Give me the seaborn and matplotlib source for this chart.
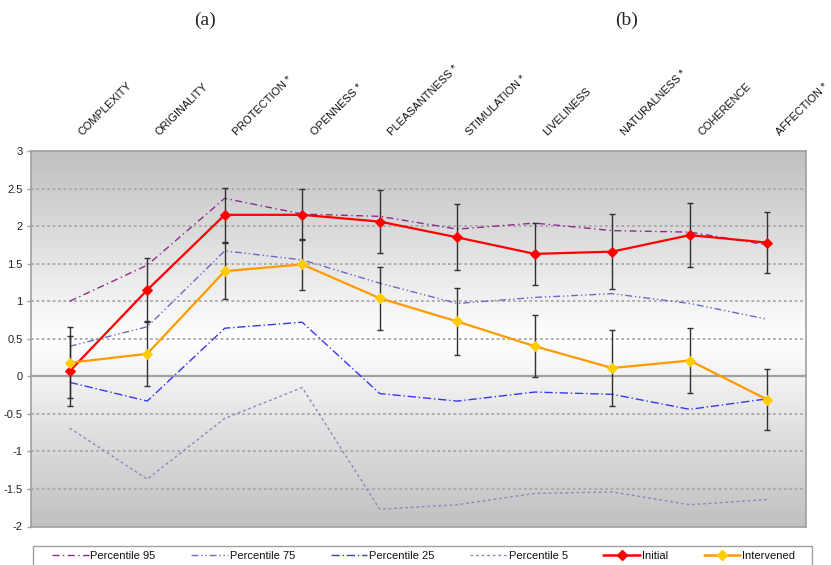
import numpy as np
import pandas as pd
import matplotlib
matplotlib.use("Agg")
import matplotlib.pyplot as plt
import seaborn as sns
from matplotlib.lines import Line2D
from matplotlib.patches import Rectangle
from matplotlib.colors import LinearSegmentedColormap

# ---- data -----------------------------------------------------------------
categories = ["COMPLEXITY", "ORIGINALITY", "PROTECTION *", "OPENNESS *",
              "PLEASANTNESS *", "STIMULATION *", "LIVELINESS", "NATURALNESS *",
              "COHERENCE", "AFFECTION *"]

p95 = [1.00, 1.48, 2.37, 2.16, 2.13, 1.96, 2.04, 1.94, 1.92, 1.75]
p75 = [0.40, 0.66, 1.67, 1.55, 1.24, 0.97, 1.05, 1.10, 0.97, 0.76]
p25 = [-0.08, -0.33, 0.64, 0.72, -0.23, -0.33, -0.21, -0.24, -0.44, -0.30]
p5 = [-0.69, -1.37, -0.56, -0.15, -1.77, -1.71, -1.56, -1.54, -1.71, -1.64]

initial = [0.07, 1.15, 2.15, 2.15, 2.06, 1.85, 1.63, 1.66, 1.88, 1.78]
initial_err = [0.46, 0.43, 0.36, 0.34, 0.42, 0.44, 0.41, 0.50, 0.43, 0.41]
intervened = [0.18, 0.30, 1.40, 1.49, 1.04, 0.73, 0.40, 0.11, 0.21, -0.31]
intervened_err = [0.47, 0.43, 0.37, 0.34, 0.42, 0.44, 0.41, 0.50, 0.43, 0.41]

y_ticks = [-2, -1.5, -1, -0.5, 0, 0.5, 1, 1.5, 2, 2.5, 3]
panel_labels = ["(a)", "(b)"]

# ---- styling --------------------------------------------------------------
sns.set_theme(style="white")
plt.rcParams["font.family"] = ["Liberation Sans", "DejaVu Sans"]
plt.rcParams["axes.unicode_minus"] = False

pct_names = ["Percentile 95", "Percentile 75", "Percentile 25", "Percentile 5"]
pct_colors = {"Percentile 95": "#8E2A8E", "Percentile 75": "#6A6AC8",
              "Percentile 25": "#3838F0", "Percentile 5": "#8A8AB8"}
pct_dashes = {"Percentile 95": (5, 2.5, 1, 2.5),
              "Percentile 75": (5, 2, 1, 2, 1, 2),
              "Percentile 25": (6, 2, 1, 2),
              "Percentile 5": (2, 2)}
c_init = "#FF0000"
c_int_line = "#FF9A00"
c_int_mark = "#FFCC00"

x = np.arange(len(categories))
pct_df = pd.DataFrame({
    "x": np.tile(x, 4),
    "value": p95 + p75 + p25 + p5,
    "series": np.repeat(pct_names, len(categories)),
})

fig = plt.figure(figsize=(8.31, 5.65), dpi=100)
ax = fig.add_axes([31 / 831, 1 - 526.5 / 565, (806 - 31) / 831, (526.5 - 151) / 565])

# gradient fill: grey at top and bottom, white through the middle
grad = (np.abs(np.linspace(3, -2, 400) - 0.5) / 2.5).reshape(-1, 1)
cmap = LinearSegmentedColormap.from_list("bg", ["#FFFFFF", "#C0C0C0"])
ax.imshow(grad, extent=(-0.5, 9.5, -2, 3), aspect="auto", cmap=cmap,
          vmin=0, vmax=1, zorder=0, interpolation="bilinear")

for v in y_ticks[1:-1]:
    if v == 0:
        ax.axhline(v, color="#A0A0A0", lw=1.6, zorder=1)
    else:
        ax.axhline(v, color="#A8A8A8", lw=1.3, dashes=(1.5, 1.5), zorder=1)

sns.lineplot(data=pct_df, x="x", y="value", hue="series", style="series",
             palette=pct_colors, dashes=pct_dashes, lw=1.0, legend=False,
             ax=ax, zorder=2)

for vals, errs in ((initial, initial_err), (intervened, intervened_err)):
    ax.errorbar(x, vals, yerr=errs, fmt="none", ecolor="#303030",
                elinewidth=1.0, capsize=2.5, capthick=1.0, zorder=4)

sns.lineplot(x=x, y=initial, color=c_init, lw=1.6, marker="D", markersize=5,
             markerfacecolor=c_init, markeredgecolor=c_init, ax=ax, zorder=5)
sns.lineplot(x=x, y=intervened, color=c_int_line, lw=1.6, marker="D", markersize=5,
             markerfacecolor=c_int_mark, markeredgecolor=c_int_mark, ax=ax, zorder=5)

ax.set_xlim(-0.5, 9.5)
ax.set_ylim(-2, 3)
ax.set_xticks([])
ax.set_yticks(y_ticks)
ax.set_yticklabels([f"{v:g}" for v in y_ticks])
ax.set_xlabel("")
ax.set_ylabel("")
ax.tick_params(axis="y", left=True, length=3, width=1, color="#A0A0A0",
               labelsize=8, labelcolor="#222222", pad=3)
for s in ax.spines.values():
    s.set_color("#A0A0A0")
    s.set_linewidth(1.2)

# category names above the plot area
for i, name in enumerate(categories):
    ax.text(i + 0.18, 1.035, name, transform=ax.get_xaxis_transform(),
            rotation=45, rotation_mode="anchor", ha="left", va="bottom",
            fontsize=7.9, color="#111111")

fig.text(205 / 831, 1 - 20 / 565, panel_labels[0], family="Liberation Serif",
         fontsize=14, ha="center", va="center")
fig.text(627 / 831, 1 - 20 / 565, panel_labels[1], family="Liberation Serif",
         fontsize=14, ha="center", va="center")

# legend strip along the bottom edge
fig.add_artist(Rectangle((33 / 831, -0.02), (812 - 33) / 831, 0.02 + 1 - 546 / 565,
                         transform=fig.transFigure, facecolor="white",
                         edgecolor="#A0A0A0", lw=1.0, zorder=1))

handles = [Line2D([], [], color=pct_colors[n], lw=1.0, dashes=pct_dashes[n])
           for n in pct_names]
handles.append(Line2D([], [], color=c_init, lw=1.8, marker="D", markersize=5,
                      markerfacecolor=c_init, markeredgecolor=c_init))
handles.append(Line2D([], [], color=c_int_line, lw=1.8, marker="D", markersize=5,
                      markerfacecolor=c_int_mark, markeredgecolor=c_int_mark))
labels = pct_names + ["Initial", "Intervened"]

leg = fig.legend(handles, labels, loc="upper left", ncol=6, mode="expand",
                 bbox_to_anchor=(47 / 831, 0, (800 - 47) / 831, 1 - 546 / 565),
                 frameon=False, fontsize=8, handlelength=3.3, handletextpad=0.15,
                 borderaxespad=0, borderpad=0.45, columnspacing=1.0)
leg.set_zorder(2)
for t in leg.get_texts():
    t.set_color("#111111")

fig.savefig("out.png", dpi=100)
